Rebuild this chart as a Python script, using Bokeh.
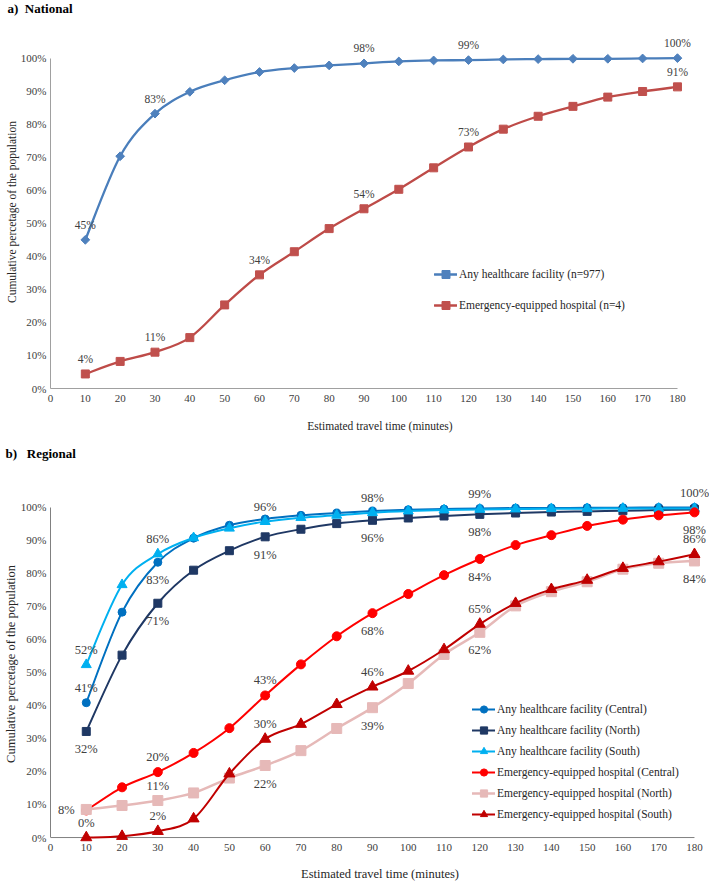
import numpy as np
from bokeh.plotting import figure
from bokeh.models import (ColumnDataSource, Legend, LegendItem, PrintfTickFormatter,
                          FixedTicker, Range1d)
from bokeh.layouts import column
from bokeh.embed import file_html
from bokeh.resources import INLINE

# ---------------- data ----------------
minutes = [10, 20, 30, 40, 50, 60, 70, 80, 90, 100, 110, 120, 130, 140, 150, 160, 170, 180]

nat_any = [45.0, 70.3, 83.2, 89.8, 93.3, 95.8, 97.0, 97.8, 98.4, 99.0, 99.3, 99.4,
           99.6, 99.7, 99.8, 99.8, 99.9, 100.0]
nat_emg = [4.4, 8.2, 11.0, 15.4, 25.3, 34.4, 41.4, 48.4, 54.4, 60.3, 66.8, 73.1,
           78.5, 82.4, 85.4, 88.2, 89.9, 91.3]

reg_any_central = [40.8, 68.2, 83.3, 90.6, 94.5, 96.4, 97.5, 98.2, 98.8, 99.2, 99.4, 99.6,
                   99.7, 99.7, 99.8, 99.8, 99.9, 99.9]
reg_any_north = [32.1, 55.2, 70.9, 80.9, 86.8, 91.0, 93.3, 95.0, 96.0, 96.7, 97.3, 97.8,
                 98.2, 98.5, 98.7, 98.9, 99.1, 99.3]
reg_any_south = [52.3, 76.5, 85.8, 90.7, 93.6, 95.6, 96.8, 97.5, 98.3, 98.8, 99.1, 99.3,
                 99.4, 99.5, 99.5, 99.6, 99.6, 99.6]
reg_emg_central = [8.2, 15.2, 19.8, 25.6, 33.1, 43.0, 52.4, 60.9, 67.9, 73.7, 79.4, 84.3,
                   88.5, 91.5, 94.3, 96.2, 97.5, 98.4]
reg_emg_north = [8.5, 9.7, 11.2, 13.5, 18.0, 21.8, 26.3, 33.0, 39.3, 46.6, 55.4, 62.1,
                 70.1, 74.4, 77.4, 81.2, 83.0, 83.7]
reg_emg_south = [0.0, 0.4, 1.9, 5.7, 19.3, 29.8, 34.3, 40.3, 45.6, 50.4, 56.9, 64.6,
                 70.9, 75.1, 77.9, 81.5, 83.5, 85.7]

x_ticks = [0, 10, 20, 30, 40, 50, 60, 70, 80, 90, 100, 110, 120, 130, 140, 150, 160, 170, 180]
y_ticks = [0, 10, 20, 30, 40, 50, 60, 70, 80, 90, 100]

# which points carry a data label, and where
nat_any_lab = ([0, 2, 8, 11, 17], "above")
nat_emg_lab = ([0, 2, 5, 8, 11, 17], "above")
reg_any_central_lab = ([0], "above")
reg_any_central_lab2 = ([2], "below")
reg_any_north_lab = ([0, 2, 5, 8, 11], "below")
reg_any_south_lab = ([0, 2, 5, 8, 11, 17], "above")
reg_emg_central_lab = ([0], "left")
reg_emg_central_lab2 = ([2, 5], "above")
reg_emg_central_lab3 = ([8, 11, 17], "below")
reg_emg_north_lab = ([2], "above")
reg_emg_north_lab2 = ([5, 8, 11, 17], "below")
reg_emg_south_lab = ([0, 2, 5, 8, 11, 17], "above")

SERIF = "Liberation Serif"
TXT = "#404040"


def bezier_source(xs, ys, k=1.0):
    n = len(xs)
    d = dict(x0=[], y0=[], x1=[], y1=[], cx0=[], cy0=[], cx1=[], cy1=[])
    for i in range(n - 1):
        pm = max(i - 1, 0)
        pp = min(i + 2, n - 1)
        d["x0"].append(xs[i]); d["y0"].append(ys[i])
        d["x1"].append(xs[i + 1]); d["y1"].append(ys[i + 1])
        d["cx0"].append(xs[i] + k * (xs[i + 1] - xs[pm]) / 6.0)
        d["cy0"].append(ys[i] + k * (ys[i + 1] - ys[pm]) / 6.0)
        d["cx1"].append(xs[i + 1] - k * (xs[pp] - xs[i]) / 6.0)
        d["cy1"].append(ys[i + 1] - k * (ys[pp] - ys[i]) / 6.0)
    return ColumnDataSource(d)


def add_series(p, ys, color, marker, size, lw, mcolor=None, angle=0.0):
    src = ColumnDataSource(dict(x=minutes, y=ys))
    lr = p.bezier("x0", "y0", "x1", "y1", "cx0", "cy0", "cx1", "cy1",
                  source=bezier_source(minutes, ys), line_color=color,
                  line_width=lw, line_cap="round")
    mr = p.scatter("x", "y", source=src, marker=marker, size=size, angle=angle,
                   fill_color=mcolor or color, line_color=mcolor or color)
    return [lr, mr]


def add_labels(p, ys, spec, font_size):
    idx, pos = spec
    xs = [minutes[i] for i in idx]
    yv = [ys[i] for i in idx]
    txt = ["%d%%" % int(round(v)) for v in yv]
    xo, yo = 0, 0
    if pos == "above":
        yo = -15
    elif pos == "below":
        yo = 18
    elif pos == "left":
        xo = -20
    p.text(x=xs, y=yv, text=txt, x_offset=xo, y_offset=yo, text_align="center",
           text_baseline="middle", text_font_size=font_size, text_color=TXT,
           text_font=SERIF)


def style(p, title, title_offset, title_lh, label_size, tick_size, axis_color):
    # second (blank) title line makes the title block fill the top border
    p.title.text = title + "\n\u00a0"
    p.title.text_font = SERIF
    p.title.text_font_size = "13px"
    p.title.text_font_style = "bold"
    p.title.text_color = "#000000"
    p.title.text_line_height = title_lh
    p.title.align = "left"
    p.title.vertical_align = "top"
    p.title.offset = title_offset
    p.title.standoff = 0
    p.xgrid.grid_line_color = None
    p.ygrid.grid_line_color = None
    p.outline_line_color = None
    for ax in (p.xaxis[0], p.yaxis[0]):
        ax.axis_line_color = axis_color
        ax.axis_line_width = 1
        ax.major_tick_line_color = None
        ax.minor_tick_line_color = None
        ax.major_tick_out = 0
        ax.major_tick_in = 0
        ax.minor_tick_out = 0
        ax.minor_tick_in = 0
        ax.major_label_text_font = SERIF
        ax.major_label_text_font_size = tick_size
        ax.major_label_text_color = TXT
        ax.axis_label_text_font = SERIF
        ax.axis_label_text_font_size = label_size
        ax.axis_label_text_font_style = "normal"
        ax.axis_label_text_color = "#262626"
    p.xaxis.ticker = FixedTicker(ticks=x_ticks)
    p.yaxis.ticker = FixedTicker(ticks=y_ticks)
    p.yaxis.formatter = PrintfTickFormatter(format="%d%%")
    p.xaxis.bounds = (0, 180)
    p.yaxis.bounds = (0, 100)
    p.xaxis.axis_label = "Estimated travel time (minutes)"
    p.yaxis.axis_label = "Cumulative percetage of the population"
    p.yaxis.major_label_standoff = 4
    p.yaxis.axis_label_standoff = 0


# ---------------- a) National ----------------
p1 = figure(width=709, height=443, output_backend="svg", toolbar_location=None,
            x_range=Range1d(0, 189.2), y_range=Range1d(0, 106.85),
            min_border_left=50, min_border_right=0, min_border_top=34, min_border_bottom=55)
style(p1, "a)\u00a0\u00a0National", -43, 1.2, "11.5px", "11px", "#A0A0A0")
p1.xaxis.major_label_standoff = 6
p1.xaxis.axis_label_standoff = 15

r_nat_any = add_series(p1, nat_any, "#4A7EBB", "square", 6.2, 2.3, "#4F81BD", np.pi / 4)
r_nat_emg = add_series(p1, nat_emg, "#BE4B48", "square", 8, 2.3, "#C0504D")
add_labels(p1, nat_any, nat_any_lab, "11.5px")
add_labels(p1, nat_emg, nat_emg_lab, "11.5px")

leg1 = Legend(items=[LegendItem(label="Any healthcare facility (n=977)", renderers=r_nat_any),
                     LegendItem(label="Emergency-equipped hospital (n=4)", renderers=r_nat_emg)],
              location=(384, 73), glyph_width=23, glyph_height=20, label_height=20,
              spacing=11, padding=0, margin=0, label_standoff=2,
              label_text_font=SERIF, label_text_font_size="11.5px", label_text_color="#262626",
              border_line_alpha=0, background_fill_alpha=0)
p1.add_layout(leg1)

# ---------------- b) Regional ----------------
p2 = figure(width=709, height=440, output_backend="svg", toolbar_location=None,
            x_range=Range1d(0, 184.2), y_range=Range1d(-1.5, 106.53),
            min_border_left=49, min_border_right=0, min_border_top=42, min_border_bottom=39)
style(p2, "b)\u00a0\u00a0\u00a0Regional", -45, 1.5, "12.5px", "11px", "#808080")
p2.xaxis.axis_line_color = None
p2.xaxis.major_label_standoff = 1
p2.xaxis.axis_label_standoff = 13
# x axis line drawn at the 0% level, spanning the tick range
p2.line(x=[x_ticks[0], x_ticks[-1]], y=[y_ticks[0], y_ticks[0]], line_color="#808080",
        line_width=1)

r_ac = add_series(p2, reg_any_central, "#0070C0", "circle", 8, 2, "#0070C0")
r_an = add_series(p2, reg_any_north, "#1F3864", "square", 8, 2, "#1F3864")
r_as = add_series(p2, reg_any_south, "#00B0F0", "triangle", 10, 2, "#00B0F0")
r_ec = add_series(p2, reg_emg_central, "#FF0000", "circle", 9, 2, "#FF0000")
r_en = add_series(p2, reg_emg_north, "#E6B9B8", "square", 10, 2.5, "#E6B9B8")
r_es = add_series(p2, reg_emg_south, "#C00000", "triangle", 11, 2, "#C00000")

for ys, spec in [(reg_any_central, reg_any_central_lab), (reg_any_central, reg_any_central_lab2),
                 (reg_any_north, reg_any_north_lab), (reg_any_south, reg_any_south_lab),
                 (reg_emg_central, reg_emg_central_lab), (reg_emg_central, reg_emg_central_lab2),
                 (reg_emg_central, reg_emg_central_lab3), (reg_emg_north, reg_emg_north_lab),
                 (reg_emg_north, reg_emg_north_lab2), (reg_emg_south, reg_emg_south_lab)]:
    add_labels(p2, ys, spec, "12.5px")

leg2 = Legend(items=[LegendItem(label="Any healthcare facility (Central)", renderers=r_ac),
                     LegendItem(label="Any healthcare facility (North)", renderers=r_an),
                     LegendItem(label="Any healthcare facility (South)", renderers=r_as),
                     LegendItem(label="Emergency-equipped hospital (Central)", renderers=r_ec),
                     LegendItem(label="Emergency-equipped hospital (North)", renderers=r_en),
                     LegendItem(label="Emergency-equipped hospital (South)", renderers=r_es)],
              location=(422, 19), glyph_width=23, glyph_height=18, label_height=18,
              spacing=3, padding=0, margin=0, label_standoff=2,
              label_text_font=SERIF, label_text_font_size="11.5px", label_text_color="#262626",
              border_line_alpha=0, background_fill_alpha=0)
p2.add_layout(leg2)

layout = column(p1, p2)
open("out.html", "w").write(file_html(layout, INLINE))
